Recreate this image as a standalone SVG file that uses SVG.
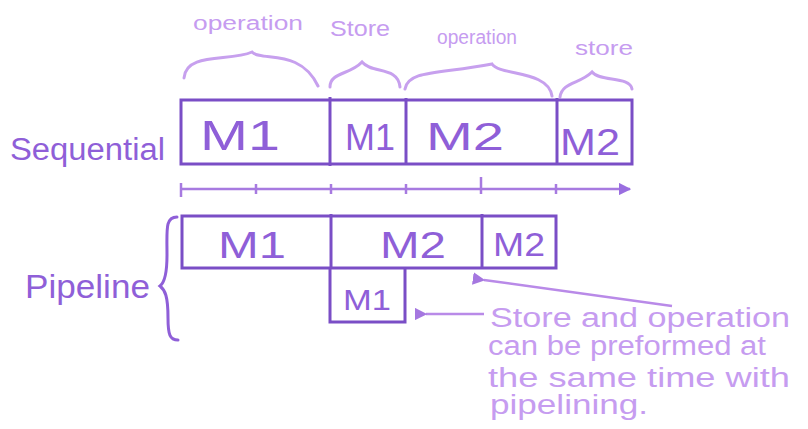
<svg xmlns="http://www.w3.org/2000/svg" width="808" height="429" viewBox="0 0 808 429">
<defs>
<style>
.box{fill:none;stroke:#7a4ec6;stroke-width:3}
.lbl{font-family:"Liberation Sans",Arial,sans-serif;fill:#8f5fd8}
.note{font-family:"Liberation Sans",Arial,sans-serif;fill:#c69cf0}
.brace{fill:none;stroke:#c7a0ee;stroke-width:3;stroke-linecap:round}
.conn{fill:none;stroke:#b98ae8;stroke-width:2.5}
.tl{fill:none;stroke:#a77ae0;stroke-width:2.5}
</style>
<marker id="ah" viewBox="0 0 10 10" refX="1" refY="5" markerWidth="5" markerHeight="5" orient="auto">
<path d="M10,0 L0,5 L10,10 Z" fill="#a577e0"/>
</marker>
<marker id="tend" viewBox="0 0 10 10" refX="9" refY="5" markerWidth="5" markerHeight="5" orient="auto">
<path d="M0,0 L10,5 L0,10 Z" fill="#9a6ee0"/>
</marker>
</defs>
<rect width="808" height="429" fill="#ffffff"/>

<g id="labels">
<text class="lbl" x="10" y="160" font-size="31" textLength="155" lengthAdjust="spacingAndGlyphs">Sequential</text>
<text class="lbl" x="25" y="298" font-size="34" textLength="125" lengthAdjust="spacingAndGlyphs">Pipeline</text>
</g>

<g id="top-braces">
<path class="brace" d="M184,78 C186,52 230,62 252,52 C262,62 300,48 318,86"/>
<text class="note" x="193" y="30" font-size="20" textLength="110" lengthAdjust="spacingAndGlyphs">operation</text>
<path class="brace" d="M330,87 C330,72 350,75 362,62 C372,74 398,66 400,87"/>
<text class="note" x="330" y="36" font-size="22" textLength="60" lengthAdjust="spacingAndGlyphs">Store</text>
<path class="brace" d="M405,89 C408,70 440,74 492,64 C500,76 548,70 552,96"/>
<text class="note" x="437" y="44" font-size="20" textLength="80" lengthAdjust="spacingAndGlyphs">operation</text>
<path class="brace" d="M560,97 C562,82 580,84 592,72 C600,82 630,76 632,89"/>
<text class="note" x="575" y="55" font-size="20" textLength="58" lengthAdjust="spacingAndGlyphs">store</text>
</g>

<g id="sequential">
<rect class="box" x="181" y="100" width="451" height="64"/>
<line class="box" x1="330" y1="97" x2="330" y2="166"/>
<line class="box" x1="406" y1="98" x2="406" y2="165"/>
<line class="box" x1="557" y1="98" x2="557" y2="165"/>
<text class="lbl" x="200" y="150" font-size="42" textLength="80" lengthAdjust="spacingAndGlyphs">M1</text>
<text class="lbl" x="345" y="150" font-size="36" textLength="50" lengthAdjust="spacingAndGlyphs">M1</text>
<text class="lbl" x="426" y="150" font-size="38" textLength="78" lengthAdjust="spacingAndGlyphs">M2</text>
<text class="lbl" x="560" y="155" font-size="36" textLength="60" lengthAdjust="spacingAndGlyphs">M2</text>
</g>

<g id="timeline">
<line class="tl" x1="181" y1="189" x2="630" y2="189" marker-end="url(#tend)"/>
<g class="tl">
<line x1="181" y1="183" x2="181" y2="197"/>
<line x1="256" y1="184" x2="256" y2="194"/>
<line x1="331" y1="184" x2="331" y2="194"/>
<line x1="406" y1="184" x2="406" y2="194"/>
<line x1="481" y1="177" x2="481" y2="194"/>
<line x1="556" y1="184" x2="556" y2="194"/>
</g>
</g>

<g id="pipeline">
<rect class="box" x="182" y="216" width="374" height="52"/>
<line class="box" x1="331" y1="214" x2="331" y2="268"/>
<line class="box" x1="482" y1="214" x2="482" y2="268"/>
<text class="lbl" x="218" y="258" font-size="36" textLength="68" lengthAdjust="spacingAndGlyphs">M1</text>
<text class="lbl" x="380" y="258" font-size="36" textLength="66" lengthAdjust="spacingAndGlyphs">M2</text>
<text class="lbl" x="493" y="256" font-size="34" textLength="52" lengthAdjust="spacingAndGlyphs">M2</text>
<path class="box" d="M330,268 L330,322 L405,322 L405,268"/>
<text class="lbl" x="343" y="310" font-size="30" textLength="48" lengthAdjust="spacingAndGlyphs">M1</text>
<path d="M177,217 C165,217 167,230 167,255 C167,275 164,283 160,286 C165,290 168,296 168,318 C168,335 170,340 178,340" fill="none" stroke="#8f5fd8" stroke-width="3" stroke-linecap="round"/>
</g>

<g id="connectors">
<line class="conn" x1="672" y1="306" x2="484" y2="280" marker-end="url(#ah)"/>
<line class="conn" x1="484" y1="314" x2="426" y2="314" marker-end="url(#ah)"/>
</g>

<g id="note">
<text class="note" font-size="27">
<tspan x="490" y="327" textLength="300" lengthAdjust="spacingAndGlyphs">Store and operation</tspan>
<tspan x="488" y="355" textLength="278" lengthAdjust="spacingAndGlyphs">can be preformed at</tspan>
<tspan x="488" y="387" textLength="302" lengthAdjust="spacingAndGlyphs">the same time with</tspan>
<tspan x="490" y="414" textLength="158" lengthAdjust="spacingAndGlyphs">pipelining.</tspan>
</text>
</g>
</svg>
